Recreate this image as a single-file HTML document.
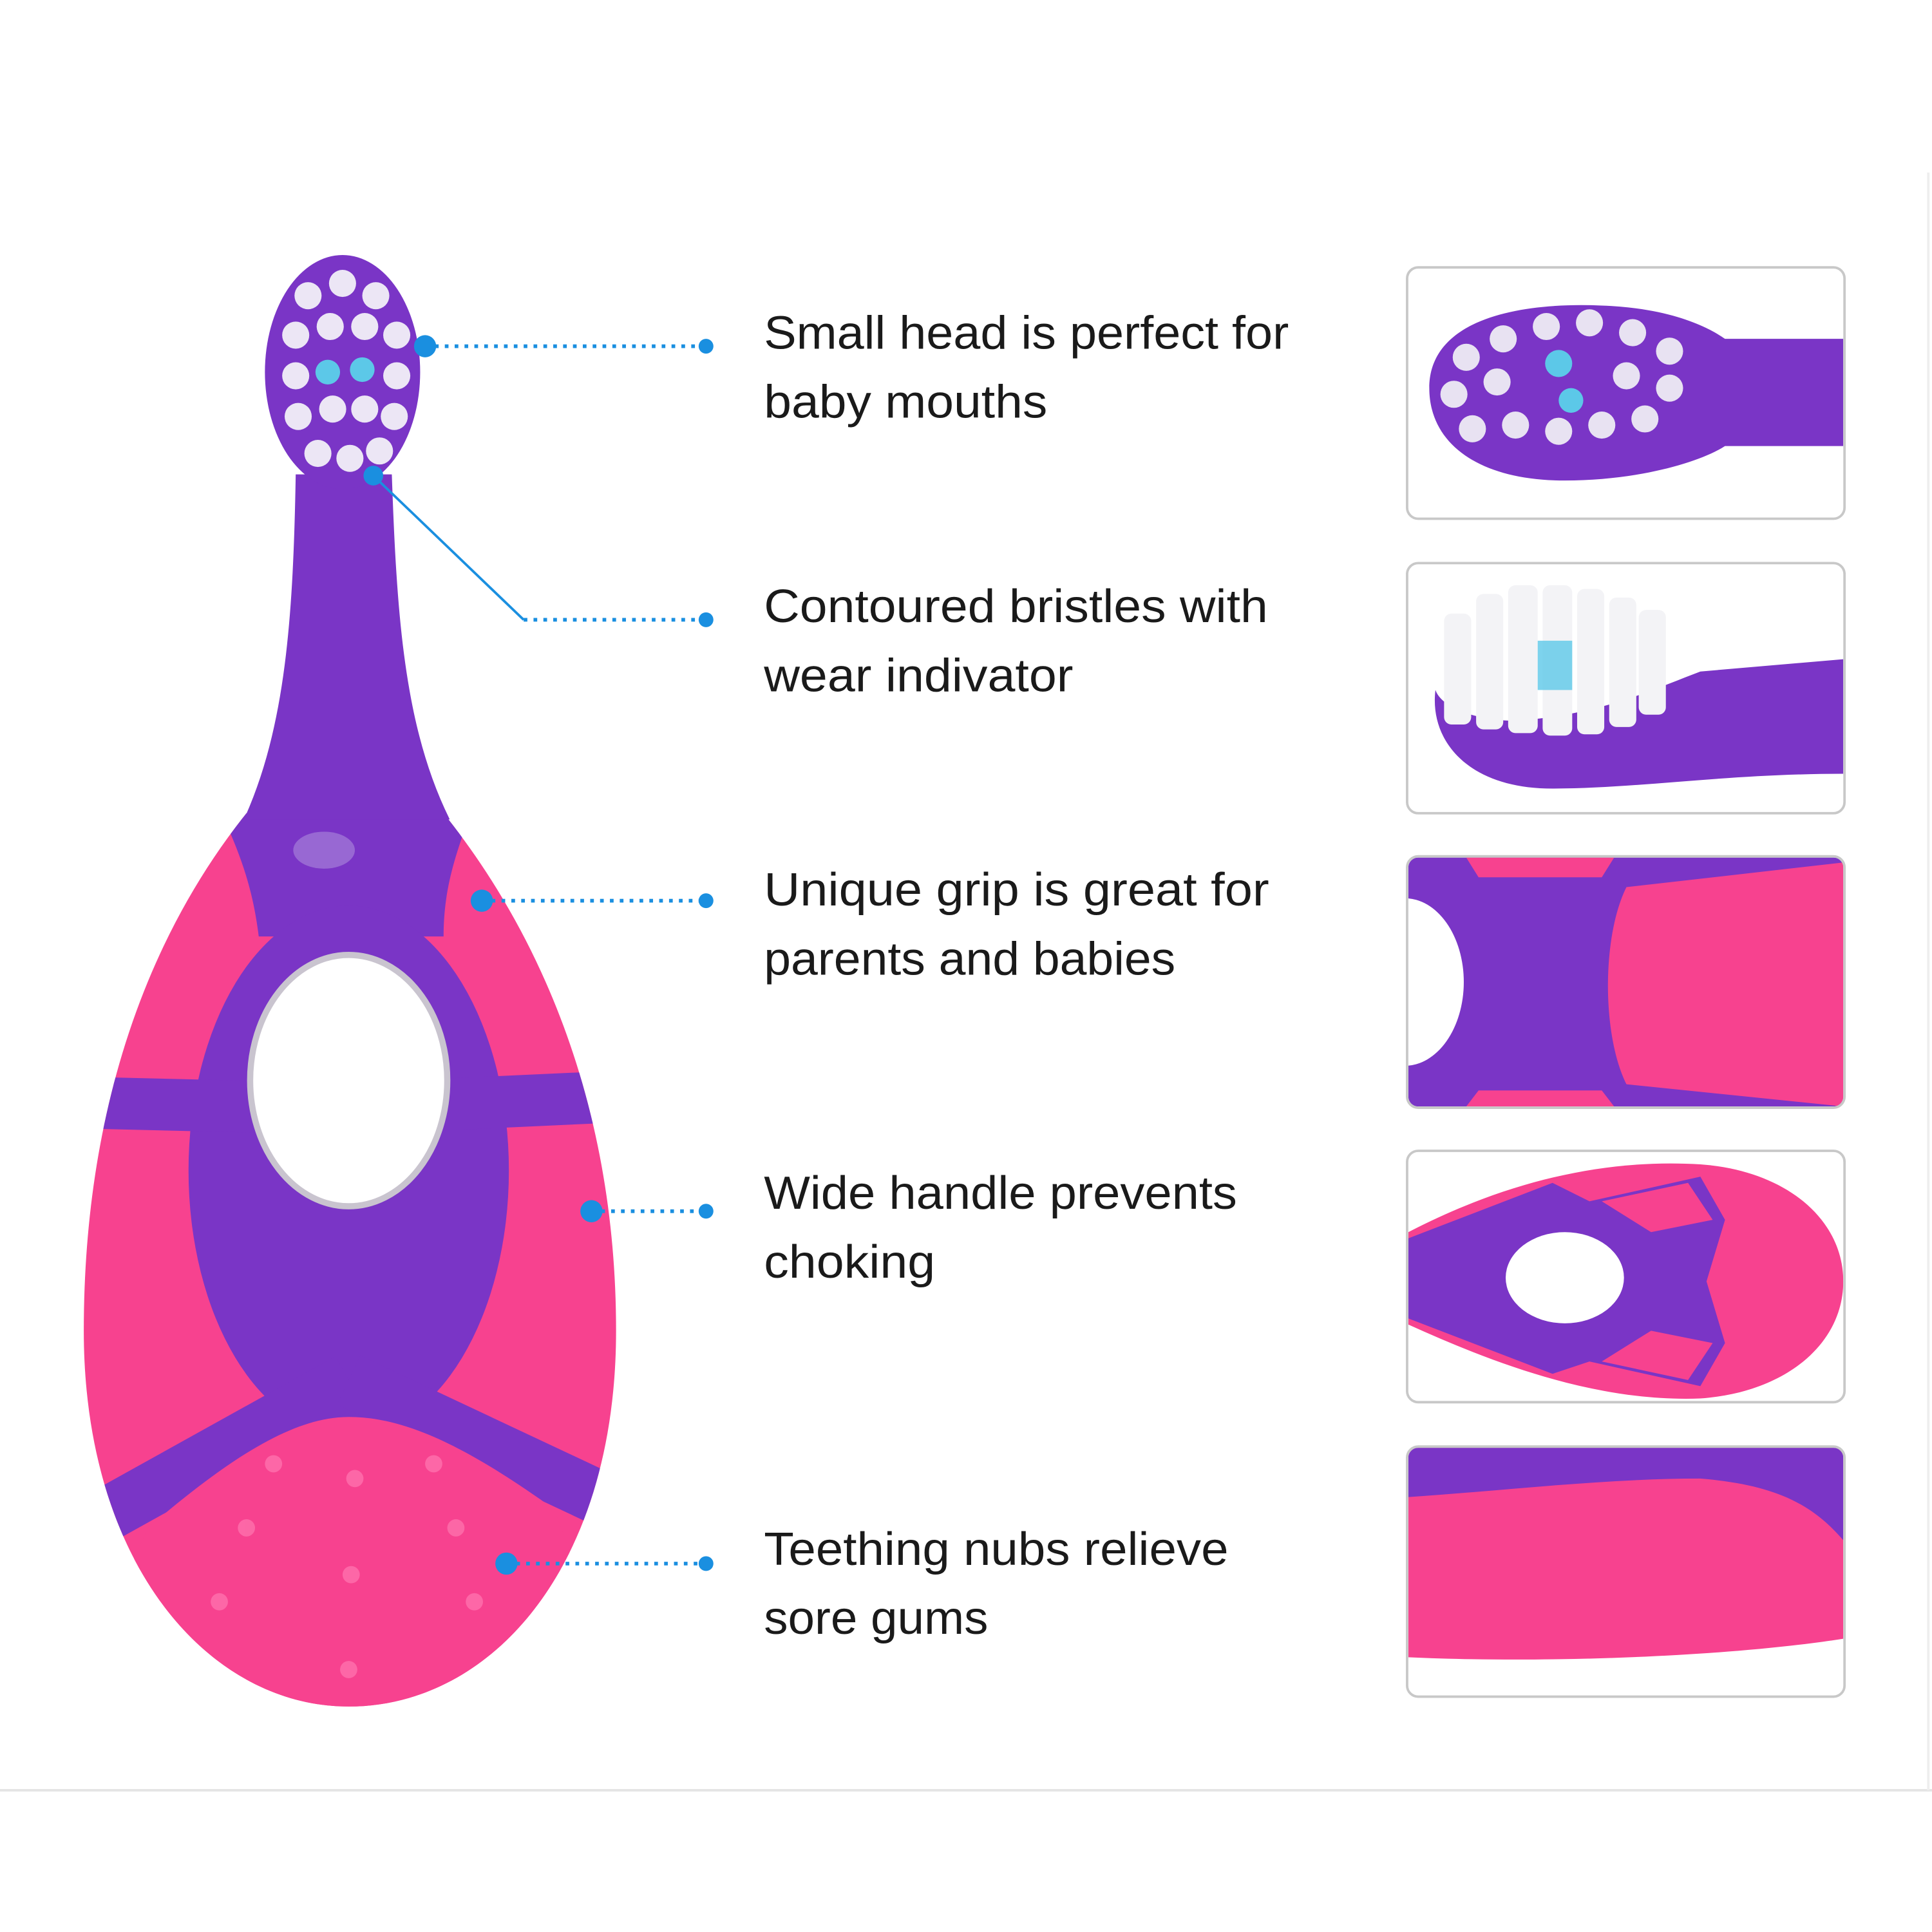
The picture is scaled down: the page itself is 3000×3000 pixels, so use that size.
<!DOCTYPE html>
<html><head><meta charset="utf-8"><style>
html,body{margin:0;padding:0;background:#fff;}
svg{display:block;}
text{font-family:"Liberation Sans","DejaVu Sans",sans-serif;fill:#1a1a1a;}
</style></head><body>
<svg width="3000" height="3000" viewBox="0 0 1568 1568" xmlns="http://www.w3.org/2000/svg">
<defs>
<clipPath id="c1"><rect x="1143" y="218" width="353" height="202" rx="8"/></clipPath>
<clipPath id="c2"><rect x="1143" y="458" width="353" height="201" rx="8"/></clipPath>
<clipPath id="c3"><rect x="1143" y="696" width="353" height="202" rx="8"/></clipPath>
<clipPath id="c4"><rect x="1143" y="935" width="353" height="202" rx="8"/></clipPath>
<clipPath id="c5"><rect x="1143" y="1175" width="353" height="201" rx="8"/></clipPath>
<clipPath id="tb"><path d="M200 660 C120 760 68 900 68 1080 C68 1270 170 1385 283 1385 C400 1385 500 1270 500 1080 C500 900 440 760 360 660 Z"/></clipPath>
</defs>
<rect width="1568" height="1568" fill="#fff"/>
<line x1="0" y1="1453" x2="1568" y2="1453" stroke="#e4e4e4" stroke-width="2"/>
<line x1="1565" y1="140" x2="1565" y2="1453" stroke="#eee" stroke-width="2"/>

<!-- toothbrush -->
<path d="M200 660 C120 760 68 900 68 1080 C68 1270 170 1385 283 1385 C400 1385 500 1270 500 1080 C500 900 440 760 360 660 Z" fill="#f7428f"/>
<g clip-path="url(#tb)" fill="#7a35c6" stroke="#7a35c6">
<path d="M170 640 L390 640 C370 690 360 720 360 760 L210 760 C205 720 195 690 170 640Z" stroke="none"/>
<ellipse cx="283" cy="950" rx="130" ry="215" stroke="none"/>
<line x1="283" y1="900" x2="70" y2="895" stroke-width="42"/>
<line x1="283" y1="900" x2="500" y2="890" stroke-width="42"/>
<line x1="283" y1="1120" x2="85" y2="1230" stroke-width="44"/>
<line x1="283" y1="1120" x2="485" y2="1215" stroke-width="44"/>
<path d="M120 1240 C190 1180 240 1150 283 1150 C330 1150 380 1175 450 1225 L520 1420 L40 1420Z" fill="#f7428f" stroke="none"/>
</g>
<path d="M240 385 C238 500 232 590 198 665 L365 665 C328 590 322 500 318 385 Z" fill="#7a35c6"/>
<ellipse cx="278" cy="302" rx="63" ry="95" fill="#7a35c6"/>
<g fill="#ece6f5">
<circle cx="250" cy="240" r="11"/><circle cx="278" cy="230" r="11"/><circle cx="305" cy="240" r="11"/>
<circle cx="240" cy="272" r="11"/><circle cx="268" cy="265" r="11"/><circle cx="296" cy="265" r="11"/><circle cx="322" cy="272" r="11"/>
<circle cx="240" cy="305" r="11"/><circle cx="322" cy="305" r="11"/>
<circle cx="242" cy="338" r="11"/><circle cx="270" cy="332" r="11"/><circle cx="296" cy="332" r="11"/><circle cx="320" cy="338" r="11"/>
<circle cx="258" cy="368" r="11"/><circle cx="284" cy="372" r="11"/><circle cx="308" cy="366" r="11"/>
</g>
<g fill="#5cc8e8"><circle cx="266" cy="302" r="10"/><circle cx="294" cy="300" r="10"/></g>
<ellipse cx="263" cy="690" rx="25" ry="15" fill="#a57fd8" opacity="0.7"/>
<ellipse cx="283" cy="877" rx="80" ry="102" fill="#fff" stroke="#c9c4cf" stroke-width="5"/>
<g fill="#ff78b0" opacity="0.7">
<circle cx="222" cy="1188" r="7"/><circle cx="288" cy="1200" r="7"/><circle cx="352" cy="1188" r="7"/>
<circle cx="200" cy="1240" r="7"/><circle cx="370" cy="1240" r="7"/><circle cx="285" cy="1278" r="7"/>
<circle cx="178" cy="1300" r="7"/><circle cx="385" cy="1300" r="7"/><circle cx="283" cy="1355" r="7"/>
</g>

<!-- connectors -->
<g stroke="#1a8fe0" stroke-width="3" stroke-dasharray="3 5" fill="none">
<line x1="345" y1="281" x2="573" y2="281"/>
<line x1="425" y1="503" x2="573" y2="503"/>
<line x1="391" y1="731" x2="573" y2="731"/>
<line x1="480" y1="983" x2="573" y2="983"/>
<line x1="411" y1="1269" x2="573" y2="1269"/>
</g>
<line x1="303" y1="386" x2="425" y2="503" stroke="#1a8fe0" stroke-width="2"/>
<g fill="#1a8fe0">
<circle cx="345" cy="281" r="9"/><circle cx="573" cy="281" r="6"/>
<circle cx="303" cy="386" r="8"/><circle cx="573" cy="503" r="6"/>
<circle cx="391" cy="731" r="9"/><circle cx="573" cy="731" r="6"/>
<circle cx="480" cy="983" r="9"/><circle cx="573" cy="983" r="6"/>
<circle cx="411" cy="1269" r="9"/><circle cx="573" cy="1269" r="6"/>
</g>

<!-- text -->
<g font-size="38">
<text x="620" y="283" textLength="426" lengthAdjust="spacingAndGlyphs">Small head is perfect for</text>
<text x="620" y="339" textLength="230" lengthAdjust="spacingAndGlyphs">baby mouths</text>
<text x="620" y="505" textLength="409" lengthAdjust="spacingAndGlyphs">Contoured bristles with</text>
<text x="620" y="561" textLength="251" lengthAdjust="spacingAndGlyphs">wear indivator</text>
<text x="620" y="735" textLength="410" lengthAdjust="spacingAndGlyphs">Unique grip is great for</text>
<text x="620" y="791" textLength="334" lengthAdjust="spacingAndGlyphs">parents and babies</text>
<text x="620" y="981" textLength="384" lengthAdjust="spacingAndGlyphs">Wide handle prevents</text>
<text x="620" y="1037" textLength="139" lengthAdjust="spacingAndGlyphs">choking</text>
<text x="620" y="1270" textLength="377" lengthAdjust="spacingAndGlyphs">Teething nubs relieve</text>
<text x="620" y="1326" textLength="182" lengthAdjust="spacingAndGlyphs">sore gums</text>
</g>

<!-- box 1 -->
<g clip-path="url(#c1)">
<path d="M1160 315 C1160 260 1230 245 1300 248 C1360 250 1390 268 1400 275 L1496 275 L1496 362 L1400 362 C1380 375 1330 390 1270 390 C1200 390 1160 360 1160 315Z" fill="#7a35c6"/>
<g fill="#e8e2f2">
<circle cx="1190" cy="290" r="11"/><circle cx="1220" cy="275" r="11"/><circle cx="1255" cy="265" r="11"/><circle cx="1290" cy="262" r="11"/><circle cx="1325" cy="270" r="11"/><circle cx="1355" cy="285" r="11"/>
<circle cx="1180" cy="320" r="11"/><circle cx="1215" cy="310" r="11"/><circle cx="1320" cy="305" r="11"/><circle cx="1355" cy="315" r="11"/>
<circle cx="1195" cy="348" r="11"/><circle cx="1230" cy="345" r="11"/><circle cx="1265" cy="350" r="11"/><circle cx="1300" cy="345" r="11"/><circle cx="1335" cy="340" r="11"/>
</g>
<circle cx="1265" cy="295" r="11" fill="#5cc8e8"/><circle cx="1275" cy="325" r="10" fill="#5cc8e8"/>
</g>
<rect x="1142" y="217" width="355" height="204" rx="9" fill="none" stroke="#c8c8c8" stroke-width="2"/>

<!-- box 2 -->
<g clip-path="url(#c2)">
<path d="M1165 560 C1160 600 1190 640 1260 640 C1330 640 1400 628 1496 628 L1496 535 L1380 545 C1340 560 1300 580 1230 585 C1200 585 1170 575 1165 560Z" fill="#7a35c6"/>
<g fill="#f3f3f6">
<rect x="1172" y="498" width="22" height="90" rx="6"/><rect x="1198" y="482" width="22" height="110" rx="6"/><rect x="1224" y="475" width="24" height="120" rx="6"/>
<rect x="1252" y="475" width="24" height="122" rx="6"/><rect x="1280" y="478" width="22" height="118" rx="6"/><rect x="1306" y="485" width="22" height="105" rx="6"/><rect x="1330" y="495" width="22" height="85" rx="6"/>
</g>
<rect x="1248" y="520" width="28" height="40" fill="#5cc8e8" opacity="0.8"/>
</g>
<rect x="1142" y="457" width="355" height="203" rx="9" fill="none" stroke="#c8c8c8" stroke-width="2"/>

<!-- box 3 -->
<g clip-path="url(#c3)">
<rect x="1143" y="696" width="353" height="202" fill="#7a35c6"/>
<path d="M1320 720 L1496 700 L1496 898 L1320 880 C1300 840 1300 760 1320 720Z" fill="#f7428f"/>
<path d="M1190 696 L1310 696 L1300 712 L1200 712Z" fill="#f7428f"/>
<path d="M1190 898 L1310 898 L1300 885 L1200 885Z" fill="#f7428f"/>
<ellipse cx="1140" cy="797" rx="48" ry="68" fill="#fff"/>
</g>
<rect x="1142" y="695" width="355" height="204" rx="9" fill="none" stroke="#c8c8c8" stroke-width="2"/>

<!-- box 4 -->
<g clip-path="url(#c4)">
<path d="M1143 1000 C1220 960 1300 940 1380 945 C1450 950 1496 990 1496 1040 C1496 1090 1450 1130 1380 1135 C1300 1138 1220 1110 1143 1075Z" fill="#f7428f"/>
<path d="M1143 1005 L1260 960 L1290 975 L1380 955 L1400 990 L1385 1040 L1400 1090 L1380 1125 L1290 1105 L1260 1115 L1143 1070Z" fill="#7a35c6"/>
<path d="M1300 975 L1370 960 L1390 990 L1340 1000Z" fill="#f7428f"/>
<path d="M1300 1105 L1370 1120 L1390 1090 L1340 1080Z" fill="#f7428f"/>
<ellipse cx="1270" cy="1037" rx="48" ry="37" fill="#fff"/>
</g>
<rect x="1142" y="934" width="355" height="204" rx="9" fill="none" stroke="#c8c8c8" stroke-width="2"/>

<!-- box 5 -->
<g clip-path="url(#c5)">
<rect x="1143" y="1175" width="353" height="201" fill="#fff"/>
<path d="M1143 1175 L1496 1175 L1496 1330 C1400 1345 1250 1350 1143 1345Z" fill="#f7428f"/>
<path d="M1143 1175 L1496 1175 L1496 1250 C1470 1220 1440 1205 1380 1200 C1300 1200 1220 1210 1143 1215Z" fill="#7a35c6"/>
</g>
<rect x="1142" y="1174" width="355" height="203" rx="9" fill="none" stroke="#c8c8c8" stroke-width="2"/>
</svg>
</body></html>
